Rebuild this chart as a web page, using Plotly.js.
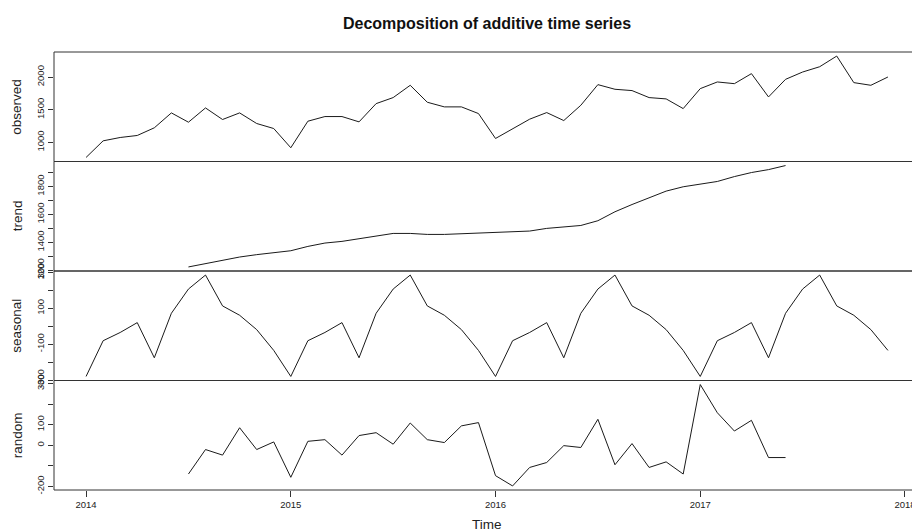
<!DOCTYPE html>
<html>
<head>
<meta charset="utf-8">
<script src="https://cdn.plot.ly/plotly-3.0.1.min.js"></script>
<style>
html, body { margin:0; padding:0; overflow:hidden; background:#fff; }
#chart { width:940px; height:531px; }
</style>
</head>
<body>
<div id="chart"></div>
<script>
// Monthly series, start 2014, frequency 12
const startYear = 2014;
const frequency = 12;

const observed = [771,1025,1076,1107,1224,1452,1310,1528,1351,1452,1290,1213,
                  919,1325,1396,1396,1315,1594,1686,1874,1615,1544,1544,1442,
                  1061,1213,1356,1457,1335,1569,1884,1813,1793,1686,1666,1518,
                  1823,1925,1899,2052,1696,1965,2077,2158,2321,1915,1874,2001];

const trend = [null,null,null,null,null,null,
               1224,1248,1271,1295,1312,1324,
               1340,1371,1395,1407,1426,1448,1464,1464,1457,1457,1462,1462,
               1469,1474,1481,1500,1510,1521,1555,1619,1671,1719,1767,1798,
               1817,1836,1871,1900,1921,1950,
               null,null,null,null,null,null];

const seasonalCycle = [-280,-81,-35,20,-176,72,207,285,113,61,-19,-135];
const seasonal = [].concat(seasonalCycle, seasonalCycle, seasonalCycle, seasonalCycle);

const random = [null,null,null,null,null,null,
                -140,-21,-48,85,-21,16,
                -156,19,27,-48,47,61,5,108,27,13,94,110,
                -148,-198,-108,-84,-2,-11,126,-95,8,-108,-81,-140,
                295,158,69,121,-60,-60,
                null,null,null,null,null,null];

const panelNames = ["observed","trend","seasonal","random"];

const xTickVals = [2014,2015,2016,2017,2018];
const xTickText = ["2014","2015","2016","2017","2018"];

const obsTickVals = [1000,1500,2000];
const obsTickText = ["1000","1500","2000"];
const trendTickVals = [1200,1300,1400,1500,1600,1700,1800,1900];
const trendTickText = ["1200","","1400","","1600","","1800",""];
const seasTickVals = [-300,-200,-100,0,100,200,300];
const seasTickText = ["-300","","-100","","100","","300"];
const randTickVals = [-200,-100,0,100,200,300];
const randTickText = ["-200","","0","100","","300"];

const times = observed.map((_, i) => startYear + i / frequency);

function padRange(arr) {
  const v = arr.filter(d => d !== null);
  const mn = Math.min(...v), mx = Math.max(...v);
  const p = 0.04 * (mx - mn);
  return [mn - p, mx + p];
}
const tMin = times[0], tMax = times[times.length - 1];
const xPad = 0.04 * (tMax - tMin);

const series = [observed, trend, seasonal, random];
const yNames = ["y","y2","y3","y4"];
const domains = [[0.75,1],[0.5,0.75],[0.25,0.5],[0,0.25]];
const tickSets = [[obsTickVals,obsTickText],[trendTickVals,trendTickText],
                  [seasTickVals,seasTickText],[randTickVals,randTickText]];

const traces = series.map((s, k) => ({
  x: times, y: s, type: "scatter", mode: "lines",
  xaxis: "x", yaxis: yNames[k],
  line: {color: "#1a1a1a", width: 1},
  connectgaps: false, hoverinfo: "skip", showlegend: false
}));

const layout = {
  width: 940, height: 531,
  margin: {l: 54, r: 20, t: 52, b: 41},
  paper_bgcolor: "#fff", plot_bgcolor: "#fff",
  font: {family: "Liberation Sans, Arial, sans-serif", color: "#222"},
  title: {
    text: "<b>Decomposition of additive time series</b>",
    font: {size: 16, color: "#111"},
    xref: "paper", x: 0.5, xanchor: "center",
    yref: "container", y: 1 - 23 / 531, yanchor: "middle"
  },
  xaxis: {
    anchor: "y4", range: [tMin - xPad, tMax + xPad],
    tickvals: xTickVals, ticktext: xTickText,
    ticks: "outside", ticklen: 6, tickcolor: "#333", tickwidth: 1,
    showgrid: false, zeroline: false, showline: false,
    tickfont: {size: 9.5, color: "#222"}
  },
  shapes: [],
  annotations: []
};

yNames.forEach((yn, k) => {
  const key = k === 0 ? "yaxis" : "yaxis" + (k + 1);
  layout[key] = {
    domain: domains[k], range: padRange(series[k]),
    anchor: "x",
    tickvals: tickSets[k][0], ticktext: tickSets[k][1],
    ticks: "outside", ticklen: 5, tickcolor: "#333", tickwidth: 1,
    tickangle: -90, tickfont: {size: 9.5, color: "#222"},
    showgrid: false, zeroline: false, showline: false
  };
  layout.shapes.push({
    type: "rect", xref: "paper", yref: "paper",
    x0: 0, x1: 1, y0: domains[k][0], y1: domains[k][1],
    line: {color: "#333", width: 1}, fillcolor: "rgba(0,0,0,0)", layer: "above"
  });
  layout.annotations.push({
    text: panelNames[k], xref: "paper", yref: "paper",
    x: (17 - 54) / 866, y: (domains[k][0] + domains[k][1]) / 2,
    xanchor: "center", yanchor: "middle", textangle: -90,
    showarrow: false, font: {size: 13.5, color: "#222"}
  });
});

layout.annotations.push({
  text: "Time", xref: "paper", yref: "paper",
  x: 0.5, y: -(524 - 490) / 438, xanchor: "center", yanchor: "middle",
  showarrow: false, font: {size: 13.5, color: "#222"}
});

Plotly.newPlot("chart", traces, layout, {staticPlot: true, displayModeBar: false});
</script>
</body>
</html>
